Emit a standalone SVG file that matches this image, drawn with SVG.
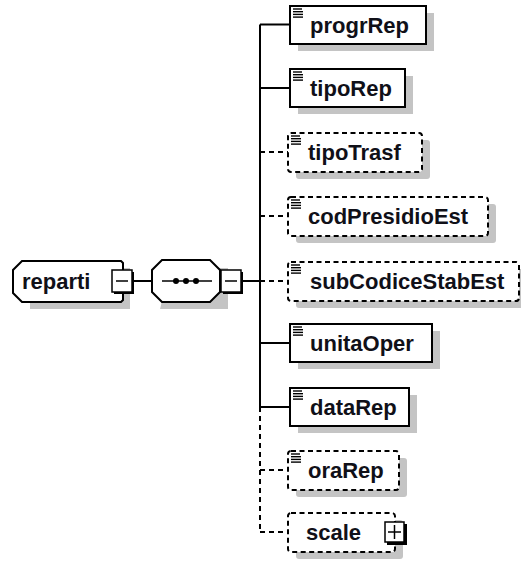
<svg xmlns="http://www.w3.org/2000/svg" width="521" height="563" viewBox="0 0 521 563">
<style>
.shadow{fill:#c4c4c4;stroke:none}
.box{fill:#fff;stroke:#000;stroke-width:2}
.opt{fill:#fff;stroke:#000;stroke-width:2;stroke-dasharray:5 3.5}
.lbl{font-family:"Liberation Sans",Arial,sans-serif;font-weight:bold;font-size:22px;fill:#101018}
.ln{stroke:#000;stroke-width:2;fill:none}
.dl{stroke:#000;stroke-width:2;fill:none;stroke-dasharray:5 4}
.ico{stroke:#000;stroke-width:1.4}
</style>
<defs>
<g id="icon">
<line class="ico" x1="3" y1="3" x2="12" y2="3"/>
<line class="ico" x1="3" y1="5.7" x2="13" y2="5.7"/>
<line class="ico" x1="3" y1="8.4" x2="13" y2="8.4"/>
<line class="ico" x1="3" y1="11.1" x2="13" y2="11.1"/>
</g>
<g id="minus">
<rect x="2" y="2" width="20" height="22" fill="#000"/>
<rect x="0" y="0" width="20" height="22" fill="#fff" stroke="#000" stroke-width="1.5"/>
<line x1="4" y1="11" x2="16" y2="11" stroke="#000" stroke-width="1.5"/>
</g>
</defs>

<g id="connectors">
<line class="ln" x1="134" y1="281" x2="152" y2="281"/>
<line class="ln" x1="242" y1="281" x2="260" y2="281"/>
<line class="ln" x1="260" y1="24.5" x2="260" y2="407"/>
<line class="dl" x1="260" y1="407" x2="260" y2="532"/>
<line class="ln" x1="260" y1="24.5" x2="290" y2="24.5"/>
<line class="ln" x1="260" y1="88" x2="290" y2="88"/>
<line class="dl" x1="260" y1="152" x2="288" y2="152"/>
<line class="dl" x1="260" y1="216" x2="288" y2="216"/>
<line class="dl" x1="260" y1="281" x2="288" y2="281"/>
<line class="ln" x1="260" y1="343" x2="290" y2="343"/>
<line class="ln" x1="260" y1="407" x2="290" y2="407"/>
<line class="dl" x1="260" y1="470" x2="288" y2="470"/>
<line class="dl" x1="260" y1="532" x2="288" y2="532"/>
</g>

<g id="reparti">
<path class="shadow" d="M30 268 H130 V309 H30 Z"/>
<path class="box" d="M22 261 H121 L123 263 V300 L121 302 H22 L13 293 V270 Z"/>
<text class="lbl" x="22" y="289">reparti</text>
<use href="#minus" x="112" y="270"/>
</g>

<g id="sequence">
<path class="shadow" d="M170 268 H228 V309 H160 Z"/>
<path class="box" d="M162 260 H210 L220 270 V292 L210 302 H162 L152 292 V270 Z"/>
<line x1="162" y1="281" x2="212" y2="281" stroke="#000" stroke-width="1.5"/>
<circle cx="176" cy="281" r="3"/>
<circle cx="186" cy="281" r="3"/>
<circle cx="196" cy="281" r="3"/>
<use href="#minus" x="221" y="270"/>
</g>

<g id="progrRep">
<rect class="shadow" x="298" y="13" width="136" height="38"/>
<rect class="box" x="290" y="6" width="136" height="38"/>
<use href="#icon" x="290" y="6"/>
<text class="lbl" x="310" y="33">progrRep</text>
</g>

<g id="tipoRep">
<rect class="shadow" x="298" y="76" width="115" height="38"/>
<rect class="box" x="290" y="69" width="115" height="38"/>
<use href="#icon" x="290" y="69"/>
<text class="lbl" x="310" y="96">tipoRep</text>
</g>

<g id="tipoTrasf">
<rect class="shadow" x="296" y="140" width="134" height="39" rx="3"/>
<rect class="opt" x="288" y="133" width="134" height="39" rx="3"/>
<use href="#icon" x="288" y="133"/>
<text class="lbl" x="308" y="160">tipoTrasf</text>
</g>

<g id="codPresidioEst">
<rect class="shadow" x="296" y="204" width="200" height="39" rx="3"/>
<rect class="opt" x="288" y="197" width="200" height="39" rx="3"/>
<use href="#icon" x="288" y="197"/>
<text class="lbl" x="308" y="224">codPresidioEst</text>
</g>

<g id="subCodiceStabEst">
<rect class="shadow" x="296" y="269" width="232" height="39" rx="3"/>
<rect class="opt" x="288" y="262" width="231" height="39" rx="3"/>
<use href="#icon" x="288" y="262"/>
<text class="lbl" x="310" y="289">subCodiceStabEst</text>
</g>

<g id="unitaOper">
<rect class="shadow" x="298" y="331" width="142" height="38"/>
<rect class="box" x="290" y="324" width="142" height="38"/>
<use href="#icon" x="290" y="324"/>
<text class="lbl" x="310" y="351">unitaOper</text>
</g>

<g id="dataRep">
<rect class="shadow" x="298" y="395" width="119" height="38"/>
<rect class="box" x="290" y="388" width="119" height="38"/>
<use href="#icon" x="290" y="388"/>
<text class="lbl" x="310" y="415">dataRep</text>
</g>

<g id="oraRep">
<rect class="shadow" x="296" y="458" width="111" height="39" rx="3"/>
<rect class="opt" x="288" y="451" width="111" height="39" rx="3"/>
<use href="#icon" x="288" y="451"/>
<text class="lbl" x="308" y="478">oraRep</text>
</g>

<g id="scale">
<rect class="shadow" x="296" y="520" width="107" height="39" rx="3"/>
<rect class="opt" x="288" y="513" width="107" height="39" rx="3"/>
<text class="lbl" x="306" y="540">scale</text>
<rect x="387" y="524" width="20" height="21" fill="#000"/>
<rect x="385" y="522" width="19" height="20" fill="#fff" stroke="#000" stroke-width="1.5"/>
<line x1="388" y1="532" x2="401" y2="532" stroke="#000" stroke-width="1.5"/>
<line x1="394.5" y1="525" x2="394.5" y2="539" stroke="#000" stroke-width="1.5"/>
</g>
</svg>
